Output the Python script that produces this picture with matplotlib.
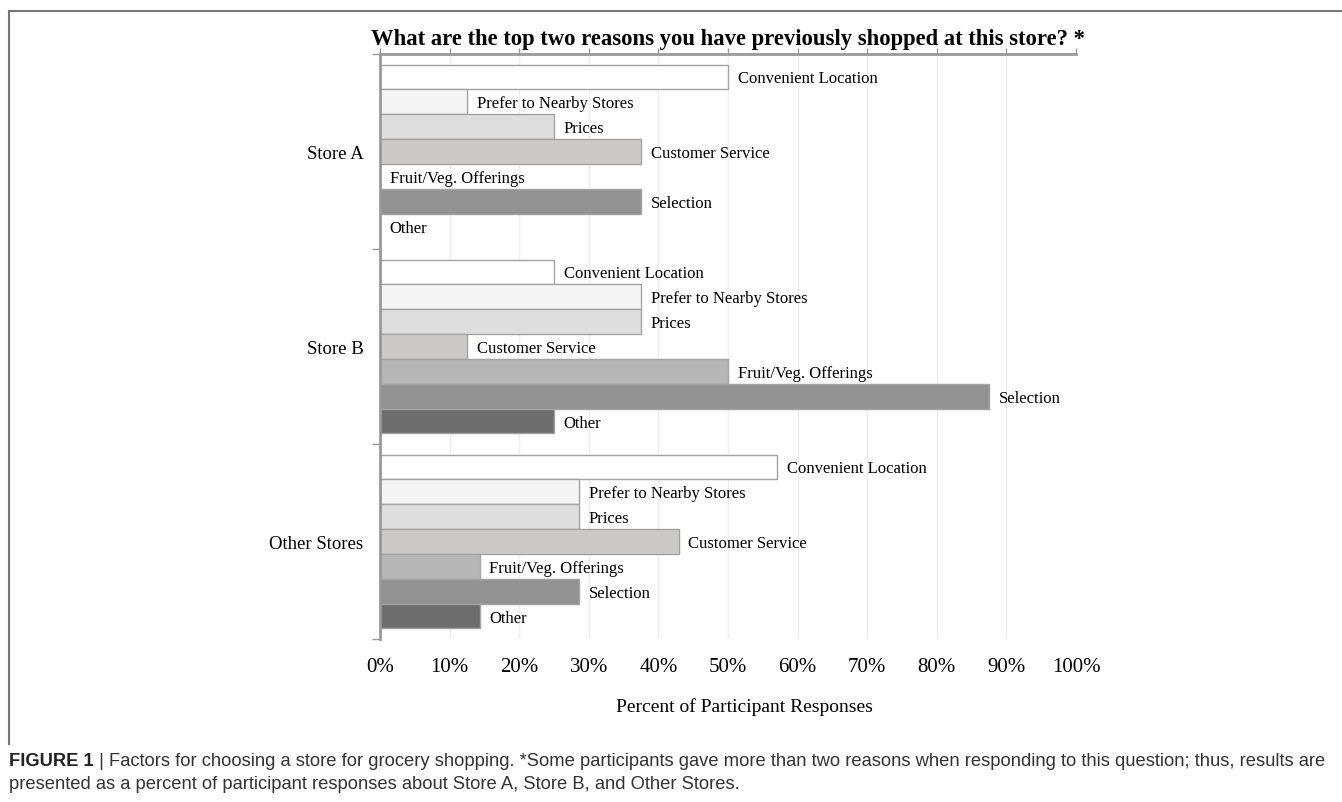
import matplotlib
matplotlib.use('Agg')
import matplotlib.pyplot as plt
from matplotlib.lines import Line2D
import numpy as np

# Data (percent of participant responses)
stores = ['Store A', 'Store B', 'Other Stores']
reasons = ['Convenient Location', 'Prefer to Nearby Stores', 'Prices',
           'Customer Service', 'Fruit/Veg. Offerings', 'Selection', 'Other']
store_a = [50.0, 12.5, 25.0, 37.5, 0.0, 37.5, 0.0]
store_b = [25.0, 37.5, 37.5, 12.5, 50.0, 87.5, 25.0]
other_stores = [57.1, 28.6, 28.6, 42.9, 14.3, 28.6, 14.3]
tick_labels = ['0%', '10%', '20%', '30%', '40%', '50%',
               '60%', '70%', '80%', '90%', '100%']

colors = ['#ffffff', '#f4f5f4', '#dedede', '#cbcac9', '#b5b6b5', '#929292', '#6d6d6d']
edge = '#a3a3a3'

serif = 'Liberation Serif'

fig = plt.figure(figsize=(13.42, 8.03), dpi=100)
W, H = 1342.0, 803.0
ax = fig.add_axes([380 / W, (H - 640) / H, (1076 - 380) / W, (640 - 55) / H])

step = 0.128
values = [store_a, store_b, other_stores]
for g, vals in enumerate(values):
    for i, v in enumerate(vals):
        y = g + 0.5 + (i - 3) * step
        ax.barh(y, v, height=step * 0.97, color=colors[i], edgecolor=edge,
                linewidth=1.0, zorder=2)
        ax.annotate(reasons[i], (v, y), xytext=(7, -1), textcoords='offset points',
                    va='center', ha='left', fontsize=12, family=serif, zorder=3)

ax.set_xlim(0, 100)
ax.set_ylim(3, 0)

# group boundary ticks and store labels
ax.set_yticks([0, 1, 2, 3])
ax.set_yticklabels([])
ax.set_yticks([0.5, 1.5, 2.5], minor=True)
ax.set_yticklabels(stores, minor=True, fontsize=13.5, family=serif)
ax.tick_params(axis='y', which='major', length=6, width=1, color='#999999', direction='out')
ax.tick_params(axis='y', which='minor', length=0, pad=12)
for lab in ax.get_yticklabels(minor=True):
    lab.set_va('center_baseline')

ax.set_xticks(np.arange(0, 101, 10))
ax.set_xticklabels(tick_labels, fontsize=15, family=serif)
ax.tick_params(axis='x', which='both', bottom=False, top=True, labelbottom=True,
               labeltop=False, length=4, width=1, color='#999999', pad=9)
ax.grid(axis='x', color='#eeeeee', linewidth=1, zorder=0)
ax.set_axisbelow(True)

for s in ['right', 'bottom']:
    ax.spines[s].set_visible(False)
for s in ['left', 'top']:
    ax.spines[s].set_color('#999999')
    ax.spines[s].set_linewidth(2)

ax.set_xlabel('Percent of Participant Responses', fontsize=14, family=serif)
ax.xaxis.set_label_coords(0.524, -0.100)
ax.set_title('What are the top two reasons you have previously shopped at this store? *',
             fontsize=16.3, fontweight='bold', family=serif, pad=7)

# frame lines of the figure panel
fig.add_artist(Line2D([9 / W, 1.0], [1 - 12 / H, 1 - 12 / H], color='#777777', linewidth=1.5))
fig.add_artist(Line2D([9 / W, 9 / W], [1 - 12 / H, 1 - 745 / H], color='#777777', linewidth=1.5))

# caption
cap_font = 'Liberation Sans'
t1 = fig.text(9 / W, 1 - 762 / H, 'FIGURE 1', fontsize=13.2, fontweight='bold',
              family=cap_font, color='#222222', va='center', ha='left')
fig.canvas.draw()
bb = t1.get_window_extent()
fig.text(bb.x1 / W, 1 - 762 / H,
         ' | Factors for choosing a store for grocery shopping. *Some participants gave more '
         'than two reasons when responding to this question; thus, results are',
         fontsize=13.2, family=cap_font, color='#333333', va='center', ha='left')
fig.text(9 / W, 1 - 785 / H,
         'presented as a percent of participant responses about Store A, Store B, and Other Stores.',
         fontsize=13.2, family=cap_font, color='#333333', va='center', ha='left')

fig.savefig('out.png', dpi=100)
